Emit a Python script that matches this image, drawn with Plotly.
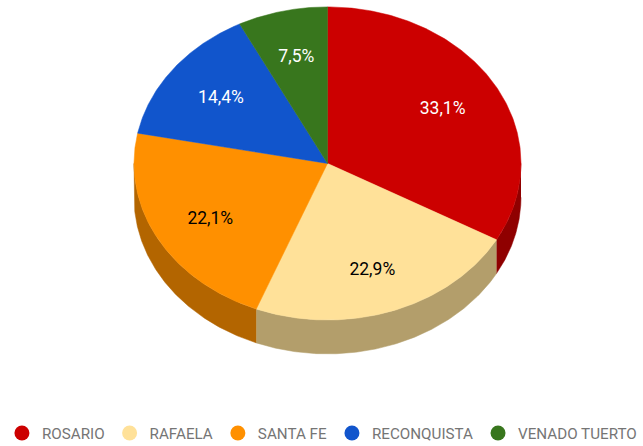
import numpy as np
import plotly.graph_objects as go

cities = ['ROSARIO', 'RAFAELA', 'SANTA FE', 'RECONQUISTA', 'VENADO TUERTO']
shares = [33.1, 22.9, 22.1, 14.4, 7.5]
share_labels = ['33,1%', '22,9%', '22,1%', '14,4%', '7,5%']
top_colors = ['#cc0000', '#ffe199', '#ff9000', '#1155cc', '#38761d']
side_colors = ['#8f0000', '#b39e6b', '#b36500', '#0c3b8f', '#275314']
label_colors = ['white', 'black', 'black', 'white', 'white']

# pie geometry, in axis units (the legend takes a few px off the plot height)
CX, CY = 327.5, 166.4
RX, RY = 193.5, 159.4
DEPTH = 34.5
LABEL_POS_X = 0.69
LABEL_POS_Y = 0.71
LABEL_DROP = 2.5
# plotly keeps the legend box on the page, so the page runs a bit past the window
PAGE_H = 450


def rim(angles):
    # angle 0 is 12 o'clock, going clockwise
    return CX + RX * np.sin(angles), CY - RY * np.cos(angles)


fig = go.Figure()

edges = np.cumsum([0] + shares) / sum(shares) * 2 * np.pi

# side wall first, only the front half of the pie shows it
for i, city in enumerate(cities):
    start = max(edges[i], np.pi / 2)
    end = min(edges[i + 1], 3 * np.pi / 2)
    if end <= start:
        continue
    t = np.linspace(start, end, 150)
    x, y = rim(t)
    fig.add_trace(go.Scatter(x=np.r_[x, x[::-1]], y=np.r_[y, y[::-1] + DEPTH],
                             mode='lines', fill='toself', fillcolor=side_colors[i],
                             line=dict(width=0.5, color=side_colors[i]),
                             hoverinfo='skip', showlegend=False))

for i, city in enumerate(cities):
    t = np.linspace(edges[i], edges[i + 1], 200)
    x, y = rim(t)
    fig.add_trace(go.Scatter(x=np.r_[CX, x, CX], y=np.r_[CY, y, CY],
                             mode='lines', fill='toself', fillcolor=top_colors[i],
                             line=dict(width=0.5, color=top_colors[i]),
                             name=city, text=share_labels[i], hoverinfo='name+text',
                             showlegend=False))

mids = (edges[:-1] + edges[1:]) / 2
for i, city in enumerate(cities):
    fig.add_trace(go.Scatter(x=[CX + LABEL_POS_X * RX * np.sin(mids[i])],
                             y=[CY - LABEL_POS_Y * RY * np.cos(mids[i]) + LABEL_DROP],
                             mode='text', text=[share_labels[i]],
                             textfont=dict(family='Roboto', size=17.5, color=label_colors[i]),
                             hoverinfo='skip', showlegend=False))

# empty traces just for the legend dots
for i, city in enumerate(cities):
    fig.add_trace(go.Scatter(x=[None], y=[None], mode='markers', name=city,
                             marker=dict(color=top_colors[i], size=15)))

fig.update_xaxes(range=[0, 643], visible=False)
fig.update_yaxes(range=[PAGE_H, 0], visible=False)
fig.update_layout(width=643, height=PAGE_H, autosize=False,
                  margin=dict(l=0, r=0, t=0, b=0),
                  paper_bgcolor='white', plot_bgcolor='white',
                  dragmode=False,
                  legend=dict(orientation='h', x=0.003, xanchor='left', y=0.02, yanchor='middle',
                              font=dict(family='Roboto', size=15.2, color='#757575'),
                              bgcolor='rgba(0,0,0,0)', itemclick=False, itemdoubleclick=False))

# the page default margin pushes the plot 8px off
fig.write_html('out.html', config=dict(displayModeBar=False),
               post_script="document.body.style.margin='0';document.documentElement.style.overflow='hidden';")
